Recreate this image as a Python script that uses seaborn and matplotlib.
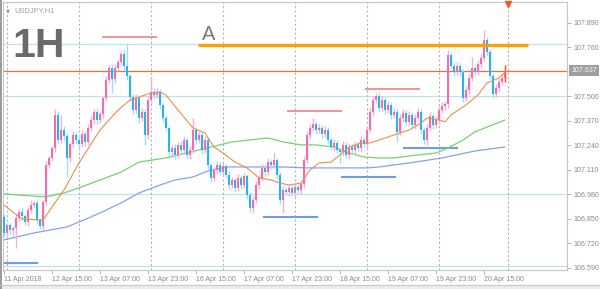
import numpy as np
import pandas as pd
import matplotlib
matplotlib.use("Agg")
import matplotlib.pyplot as plt
from matplotlib.patches import Rectangle
from matplotlib.lines import Line2D
import matplotlib.transforms as mtransforms
import seaborn as sns

# ---------------- data (USDJPY H1) ----------------
first_open = 106.861
close = [
    106.776, 106.818, 106.792, 106.802, 106.855, 106.887, 106.866, 106.834, 106.898, 106.924, 106.935, 106.845,
    106.813, 106.940, 107.137, 107.174, 107.227, 107.402, 107.269, 107.322, 107.290, 107.174, 107.248, 107.296,
    107.269, 107.248, 107.301, 107.259, 107.333, 107.375, 107.418, 107.375, 107.407, 107.492, 107.588, 107.651,
    107.593, 107.651, 107.683, 107.726, 107.662, 107.609, 107.497, 107.428, 107.492, 107.386, 107.418, 107.296,
    107.481, 107.524, 107.508, 107.524, 107.455, 107.386, 107.333, 107.206, 107.227, 107.190, 107.243, 107.216,
    107.269, 107.190, 107.216, 107.322, 107.269, 107.296, 107.216, 107.269, 107.137, 107.068, 107.110, 107.137,
    107.099, 107.131, 107.083, 107.030, 107.057, 107.015, 107.068, 107.030, 107.078, 106.977, 106.908, 106.951,
    107.030, 107.068, 107.121, 107.099, 107.152, 107.137, 107.163, 107.083, 106.951, 107.004, 106.993, 107.015,
    106.988, 107.020, 107.004, 107.036, 107.163, 107.296, 107.333, 107.354, 107.322, 107.333, 107.301, 107.322,
    107.269, 107.232, 107.253, 107.216, 107.206, 107.243, 107.190, 107.232, 107.216, 107.243, 107.227, 107.269,
    107.248, 107.322, 107.418, 107.481, 107.503, 107.439, 107.481, 107.428, 107.455, 107.402, 107.418, 107.312,
    107.386, 107.412, 107.365, 107.402, 107.349, 107.386, 107.418, 107.322, 107.269, 107.333, 107.397, 107.349,
    107.375, 107.428, 107.450, 107.460, 107.720, 107.662, 107.630, 107.662, 107.630, 107.492, 107.534, 107.598,
    107.651, 107.630, 107.672, 107.704, 107.800, 107.736, 107.609, 107.513, 107.545, 107.577, 107.598, 107.637,
]
upper_wick = [
    .015, .010, .010, .010, .020, .015, .020, .010, .015, .025, .010, .015,
    .010, .010, .020, .010, .010, .030, .020, .080, .020, .015, .010, .020,
    .015, .030, .020, .015, .020, .020, .015, .020, .015, .010, .020, .015,
    .020, .020, .015, .015, .020, .120, .015, .015, .020, .015, .020, .015,
    .020, .080, .020, .020, .015, .010, .015, .010, .015, .020, .015, .020,
    .020, .015, .020, .065, .015, .020, .015, .020, .015, .010, .015, .020,
    .015, .015, .010, .020, .015, .010, .020, .015, .015, .010, .015, .020,
    .020, .015, .020, .015, .020, .015, .045, .010, .015, .020, .015, .015,
    .015, .020, .015, .015, .020, .020, .020, .030, .015, .020, .015, .020,
    .015, .015, .020, .015, .015, .020, .015, .020, .015, .020, .015, .020,
    .015, .020, .020, .020, .015, .020, .020, .015, .020, .015, .020, .015,
    .020, .020, .015, .020, .015, .020, .020, .015, .015, .020, .020, .015,
    .020, .020, .020, .015, .025, .015, .020, .020, .015, .015, .020, .020,
    .060, .015, .020, .020, .053, .015, .015, .015, .020, .020, .020, .030,
]
lower_wick = [
    .015, .015, .020, .030, .106, .015, .020, .015, .020, .015, .015, .020,
    .015, .020, .015, .015, .015, .020, .020, .015, .020, .100, .020, .015,
    .020, .020, .015, .020, .015, .015, .020, .020, .015, .020, .015, .015,
    .074, .020, .015, .015, .020, .020, .020, .020, .015, .025, .015, .053,
    .020, .015, .020, .015, .020, .020, .015, .020, .015, .020, .015, .020,
    .020, .015, .020, .015, .020, .015, .020, .015, .020, .020, .015, .020,
    .015, .020, .015, .020, .015, .020, .015, .020, .015, .020, .020, .026,
    .015, .020, .015, .020, .015, .020, .015, .020, .020, .069, .015, .020,
    .015, .020, .015, .020, .020, .015, .020, .015, .020, .015, .020, .015,
    .020, .015, .020, .015, .059, .020, .015, .020, .015, .020, .015, .020,
    .015, .020, .015, .020, .015, .020, .015, .020, .015, .020, .015, .053,
    .015, .020, .015, .020, .015, .020, .015, .020, .020, .026, .015, .020,
    .015, .020, .015, .020, .020, .015, .020, .015, .020, .020, .015, .020,
    .015, .020, .015, .020, .015, .020, .015, .020, .015, .020, .015, .020,
]

# moving averages (bar index, price)
ma_fast_bar = [0, 6, 13, 20, 25, 32, 38, 42, 45, 49, 52, 54, 58, 63, 67, 70, 73, 77, 81, 85, 89, 92, 95,
               99, 102, 105, 109, 112, 115, 119, 122, 125, 130, 135, 139, 141, 145, 147, 149, 154, 158, 161, 165, 167]
ma_fast_val = [106.924, 106.850, 106.845, 107.004, 107.147, 107.322, 107.428, 107.481, 107.497, 107.519, 107.524,
               107.508, 107.428, 107.333, 107.306, 107.232, 107.200, 107.152, 107.121, 107.068, 107.057, 107.041,
               107.030, 107.041, 107.110, 107.147, 107.152, 107.190, 107.232, 107.253, 107.253, 107.269, 107.296,
               107.322, 107.359, 107.386, 107.375, 107.365, 107.402, 107.455, 107.508, 107.572, 107.598, 107.630]
ma_mid_bar = [0, 14, 20, 25, 32, 39, 45, 54, 65, 76, 88, 93, 99, 104, 110, 115, 120, 125, 130, 138, 144,
              148, 153, 157, 161, 167]
ma_mid_val = [106.983, 106.967, 106.988, 107.015, 107.057, 107.099, 107.152, 107.174, 107.216, 107.259, 107.280,
              107.259, 107.243, 107.243, 107.232, 107.200, 107.179, 107.174, 107.174, 107.190, 107.200, 107.227,
              107.269, 107.312, 107.338, 107.375]
ma_slow_bar = [0, 10, 21, 25, 32, 39, 45, 52, 57, 63, 68, 74, 84, 93, 101, 110, 121, 125, 135, 146, 157, 167]
ma_slow_val = [106.739, 106.776, 106.808, 106.834, 106.882, 106.935, 106.988, 107.030, 107.057, 107.073, 107.105,
               107.126, 107.126, 107.126, 107.121, 107.121, 107.121, 107.126, 107.147, 107.174, 107.211, 107.232]

tick_bars = [0, 16, 32, 48, 64, 80, 96, 112, 128, 144, 160]
tick_labels = ["11 Apr 2018", "12 Apr 15:00", "13 Apr 07:00", "13 Apr 23:00", "16 Apr 15:00",
               "17 Apr 07:00", "17 Apr 23:00", "18 Apr 15:00", "19 Apr 07:00", "19 Apr 23:00", "20 Apr 15:00"]
day_bars = [1, 25, 49, 73, 97, 121, 145, 168]
y_ticks = [106.590, 106.720, 106.850, 106.980, 107.110, 107.240, 107.370, 107.500, 107.760, 107.890]
current_price = 107.637

light_levels = [107.780, 107.505, 106.980, 106.600]
level_a = 107.773
level_a_span = (64.7, 174.7)
red_levels = [107.816, 107.423, 107.540]
red_start = [32.7, 94.3, 120.3]
red_end = [51.0, 112.7, 138.7]
blue_levels = [106.617, 106.861, 107.073, 107.227]
blue_start = [-0.3, 86.3, 112.3, 133.0]
blue_end = [11.3, 104.7, 130.7, 151.3]

# ---------------- build ----------------
close_a = np.array(close)
open_a = np.concatenate([[first_open], close_a[:-1]])
high_a = np.maximum(open_a, close_a) + np.array(upper_wick)
low_a = np.minimum(open_a, close_a) - np.array(lower_wick)
bars = np.arange(len(close_a))
up = close_a >= open_a

sns.set_style("white")
plt.rcParams["font.family"] = ["Liberation Sans", "DejaVu Sans"]

W, H = 600, 289
fig = plt.figure(figsize=(W / 100, H / 100), dpi=100)
ax = fig.add_axes([3 / W, 1 - 270 / H, 564 / W, 268 / H])

# horizontal levels
for lv in light_levels:
    ax.axhline(lv, color="#bfe3ee", lw=0.9, zorder=1)
ax.axhline(current_price, color="#ff6a2c", lw=0.9, zorder=1.5)

# day separators
for d in day_bars:
    ax.axvline(d, color="#b5b5b5", lw=0.8, ls=(0, (2, 2)), zorder=1)

for lv, s, e in zip(red_levels, red_start, red_end):
    ax.plot([s, e], [lv, lv], color="#f08a8e", lw=1.3, zorder=2, solid_capstyle="butt")
for lv, s, e in zip(blue_levels, blue_start, blue_end):
    ax.plot([s, e], [lv, lv], color="#6f9bea", lw=1.5, zorder=2, solid_capstyle="butt")

# moving averages through seaborn
df_fast = pd.DataFrame({"bar": ma_fast_bar, "price": ma_fast_val})
df_mid = pd.DataFrame({"bar": ma_mid_bar, "price": ma_mid_val})
df_slow = pd.DataFrame({"bar": ma_slow_bar, "price": ma_slow_val})
sns.lineplot(data=df_slow, x="bar", y="price", ax=ax, color="#86a2f0", lw=0.9, zorder=2.2)
sns.lineplot(data=df_mid, x="bar", y="price", ax=ax, color="#74d36a", lw=0.9, zorder=2.2)
sns.lineplot(data=df_fast, x="bar", y="price", ax=ax, color="#e8904a", lw=0.8, zorder=4)

# candles
pink, pink_l = "#f46bae", "#f8b0d0"
blue, blue_l = "#25b4f2", "#a3dcf7"
ax.vlines(bars[up], low_a[up], high_a[up], color=pink_l, lw=1.0, zorder=2.6)
ax.vlines(bars[~up], low_a[~up], high_a[~up], color=blue_l, lw=1.0, zorder=2.6)
body_h = np.maximum(np.abs(close_a - open_a), 0.004)
body_b = np.minimum(open_a, close_a)
ax.bar(bars[up], body_h[up], bottom=body_b[up], width=0.7, color=pink, lw=0, zorder=3)
ax.bar(bars[~up], body_h[~up], bottom=body_b[~up], width=0.7, color=blue, lw=0, zorder=3)
ax.vlines([bars[-1]], [low_a[-1]], [high_a[-1]], color="#ff5a2a", lw=1.0, zorder=3.5)

# thick level A
ax.plot(list(level_a_span), [level_a, level_a], color="#ffa000", lw=2.3, zorder=5, solid_capstyle="butt")

# axes settings
ax.set_xlim(-1 / 3, -1 / 3 + 564 / 3)
ax.set_ylim(108.012 - 0.005306 * 270, 108.012 - 0.005306 * 2)
ax.set_xlabel("")
ax.set_ylabel("")
ax.yaxis.tick_right()
ax.set_yticks(y_ticks)
ax.set_yticklabels([f"{v:.3f}" for v in y_ticks])
ax.set_xticks(tick_bars)
ax.set_xticklabels(tick_labels)
for lab in ax.get_xticklabels():
    lab.set_horizontalalignment("left")
ax.tick_params(axis="y", which="both", right=True, left=False, length=3, width=0.6,
               color="#a8a8a8", labelsize=5.1, labelcolor="#8a8a8a", pad=1.6, direction="out")
ax.tick_params(axis="x", which="both", bottom=True, length=3, width=0.6,
               color="#a8a8a8", labelsize=5.0, labelcolor="#8a8a8a", pad=1.5, direction="out")
for sp in ax.spines.values():
    sp.set_color("#c6c6c6")
    sp.set_linewidth(0.8)
ax.grid(False)

# current price tag
trans = mtransforms.blended_transform_factory(ax.transAxes, ax.transData)
ax.text(1.008, current_price, "107.637", transform=trans, ha="left", va="center",
        fontsize=5.1, color="white", clip_on=False, zorder=6,
        bbox=dict(boxstyle="square,pad=0.3", fc="#9e9e9e", ec="none"))

# shift marker triangle at top
ax.plot([168], [108.012 - 0.005306 * 3.5], marker="v", color="#f05a28", ms=4.5,
        clip_on=False, zorder=7, lw=0)

# texts
fig.text(12 / W, 1 - 57 / H, "1H", fontsize=29.5, color="#6a6a6a", fontweight="bold",
         family=["Liberation Sans", "DejaVu Sans"], ha="left", va="baseline")
fig.text(202 / W, 1 - 40 / H, "A", fontsize=14.5, color="#7a7a7a",
         family=["Liberation Sans", "DejaVu Sans"], ha="left", va="baseline")
fig.text(6 / W, 1 - 12 / H, "\u25bc", fontsize=3.8, color="#9a9a9a", ha="left", va="baseline",
         family=["DejaVu Sans"])
fig.text(14 / W, 1 - 12 / H, "USDJPY,H1", fontsize=5.4, color="#a0a0a0", ha="left", va="baseline")

# window borders
fig.add_artist(Line2D([1 / W, 1 / W], [0, 1], color="#8a8a8a", lw=1.2))
fig.add_artist(Rectangle((0, 0), 1, 4 / H, transform=fig.transFigure, color="#ececec", zorder=0))
fig.add_artist(Line2D([0, 1], [4 / H, 4 / H], color="#c8c8c8", lw=0.8))

fig.savefig("out.png", dpi=100)
